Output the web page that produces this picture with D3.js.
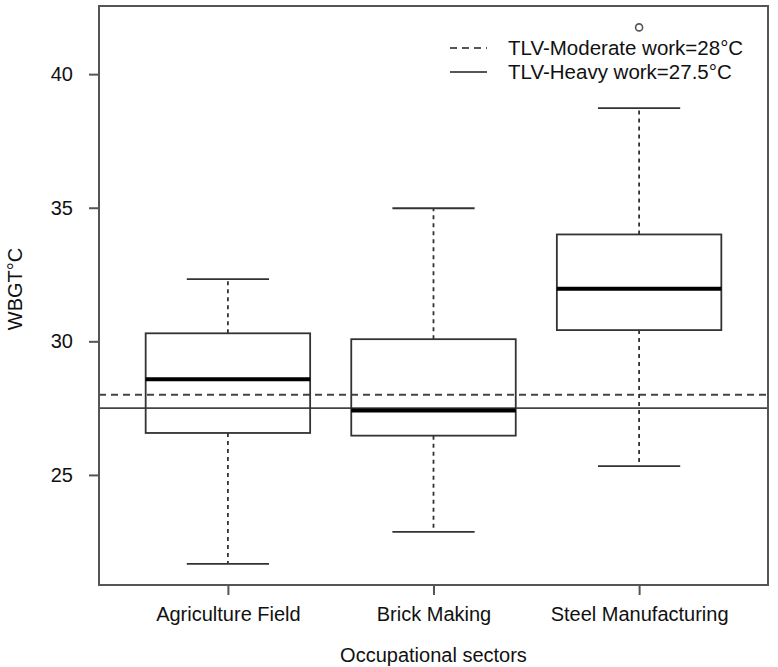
<!DOCTYPE html>
<html>
<head>
<meta charset="utf-8">
<script src="https://cdn.jsdelivr.net/npm/d3@7"></script>
<style>
  body { margin: 0; background: #fff; }
  text { font-family: "Liberation Sans", Arial, sans-serif; fill: #111; }
</style>
</head>
<body>
<div id="chart"></div>
<script>
// boxplot stats
const sectors = ['Agriculture Field', 'Brick Making', 'Steel Manufacturing'];
const whiskerLow = [21.67, 22.87, 25.33];
const q1 = [26.57, 26.47, 30.42];
const median = [28.58, 27.41, 31.97];
const q3 = [30.3, 30.08, 34.0];
const whiskerHigh = [32.33, 34.98, 38.73];
const outliers = [[], [], [41.75]];
const yTicks = [25, 30, 35, 40];
const tlvLines = [
  { label: 'TLV-Moderate work=28°C', value: 28, dash: '7,5' },
  { label: 'TLV-Heavy work=27.5°C', value: 27.5, dash: null }
];

const W = 778, H = 667;
const margin = { top: 6, right: 10, bottom: 82, left: 99 };
const width = W - margin.left - margin.right;
const height = H - margin.top - margin.bottom;

const svg = d3.select('#chart')
  .append('svg')
  .attr('width', W)
  .attr('height', H);

const g = svg.append('g')
  .attr('transform', `translate(${margin.left},${margin.top})`);

const x = d3.scaleLinear().domain([0.373, 3.627]).range([0, width]);
const y = d3.scaleLinear().domain([20.88, 42.55]).range([height, 0]);
const boxW = x(1.8) - x(1);

const data = sectors.map((s, i) => ({
  name: s, pos: i + 1,
  lo: whiskerLow[i], q1: q1[i], med: median[i], q3: q3[i], hi: whiskerHigh[i],
  out: outliers[i]
}));

const lineCol = '#333';

// reference lines
tlvLines.forEach(t => {
  g.append('line')
    .attr('x1', 0).attr('x2', width)
    .attr('y1', y(t.value)).attr('y2', y(t.value))
    .attr('stroke', '#444').attr('stroke-width', 1.8)
    .attr('stroke-dasharray', t.dash);
});

const box = g.selectAll('.box').data(data).enter().append('g').attr('class', 'box');

// whiskers (dashed)
box.append('line')
  .attr('x1', d => x(d.pos)).attr('x2', d => x(d.pos))
  .attr('y1', d => y(d.q3)).attr('y2', d => y(d.hi))
  .attr('stroke', lineCol).attr('stroke-width', 1.8).attr('stroke-dasharray', '4,4');
box.append('line')
  .attr('x1', d => x(d.pos)).attr('x2', d => x(d.pos))
  .attr('y1', d => y(d.q1)).attr('y2', d => y(d.lo))
  .attr('stroke', lineCol).attr('stroke-width', 1.8).attr('stroke-dasharray', '4,4');

// caps
['hi', 'lo'].forEach(k => {
  box.append('line')
    .attr('x1', d => x(d.pos) - boxW / 4).attr('x2', d => x(d.pos) + boxW / 4)
    .attr('y1', d => y(d[k])).attr('y2', d => y(d[k]))
    .attr('stroke', lineCol).attr('stroke-width', 1.8);
});

// boxes
box.append('rect')
  .attr('x', d => x(d.pos) - boxW / 2)
  .attr('width', boxW)
  .attr('y', d => y(d.q3))
  .attr('height', d => y(d.q1) - y(d.q3))
  .attr('fill', 'none')
  .attr('stroke', lineCol).attr('stroke-width', 1.8);

// medians
box.append('line')
  .attr('x1', d => x(d.pos) - boxW / 2).attr('x2', d => x(d.pos) + boxW / 2)
  .attr('y1', d => y(d.med)).attr('y2', d => y(d.med))
  .attr('stroke', '#000').attr('stroke-width', 4);

// outliers
box.selectAll('circle').data(d => d.out.map(v => ({ pos: d.pos, v })))
  .enter().append('circle')
  .attr('cx', d => x(d.pos)).attr('cy', d => y(d.v))
  .attr('r', 3.5).attr('fill', 'none')
  .attr('stroke', '#555').attr('stroke-width', 1.6);

// frame
g.append('rect')
  .attr('width', width).attr('height', height)
  .attr('fill', 'none').attr('stroke', '#555').attr('stroke-width', 2);

// axes
const yAxis = g.append('g')
  .call(d3.axisLeft(y).tickValues(yTicks).tickSize(10).tickPadding(16));
yAxis.select('.domain').remove();
yAxis.selectAll('line').attr('stroke', '#555').attr('stroke-width', 2);
yAxis.selectAll('text').attr('font-size', 20).attr('fill', '#111');

const xAxis = g.append('g')
  .attr('transform', `translate(0,${height})`)
  .call(d3.axisBottom(x).tickValues([1, 2, 3])
    .tickFormat(d => sectors[d - 1]).tickSize(10).tickPadding(12));
xAxis.select('.domain').remove();
xAxis.selectAll('line').attr('stroke', '#555').attr('stroke-width', 2);
xAxis.selectAll('text').attr('font-size', 20).attr('fill', '#111');

// axis titles
svg.append('text')
  .attr('transform', `translate(22,289) rotate(-90)`)
  .attr('text-anchor', 'middle')
  .attr('font-size', 20)
  .text('WBGT°C');

svg.append('text')
  .attr('x', margin.left + x(2)).attr('y', 662)
  .attr('text-anchor', 'middle')
  .attr('font-size', 20)
  .text('Occupational sectors');

// legend
const legend = svg.append('g').attr('transform', 'translate(450,48)');
tlvLines.forEach((t, i) => {
  legend.append('line')
    .attr('x1', 0).attr('x2', 37)
    .attr('y1', i * 24).attr('y2', i * 24)
    .attr('stroke', '#555').attr('stroke-width', 2)
    .attr('stroke-dasharray', t.dash);
  legend.append('text')
    .attr('x', 58).attr('y', i * 24 + 7)
    .attr('font-size', 20.5)
    .text(t.label);
});
</script>
</body>
</html>
